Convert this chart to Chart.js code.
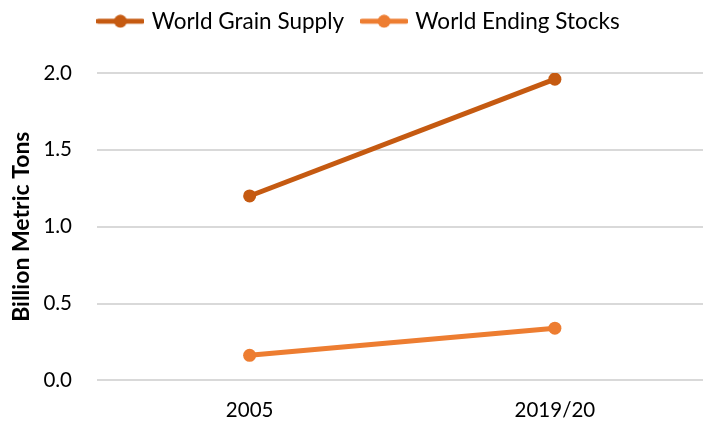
<!DOCTYPE html>
<html>
<head>
<meta charset="utf-8">
<script src="https://cdn.jsdelivr.net/npm/chart.js@4/dist/chart.umd.min.js"></script>
<style>
html,body{margin:0;padding:0;background:#fff;overflow:hidden;width:703px;height:423px;}
#wrap{position:relative;width:714px;height:423px;}
</style>
</head>
<body>
<div id="wrap"><canvas id="c" width="714" height="423"></canvas></div>
<script>
const categories = ["2005", "2019/20"];
const grainSupply = [1.20, 1.96];
const endingStocks = [0.163, 0.34];
const seriesNames = ["World Grain Supply", "World Ending Stocks"];
const yTitle = "Billion Metric Tons";

const colors = ["#C55A11", "#ED7D31"];
const FONT = "Lato, 'Liberation Sans', sans-serif";

function markerImage(color){
  const cv = document.createElement('canvas');
  cv.width = 48; cv.height = 14;
  const g = cv.getContext('2d');
  g.strokeStyle = color; g.lineWidth = 5; g.lineCap = 'round';
  g.beginPath(); g.moveTo(2,7); g.lineTo(46,7); g.stroke();
  g.fillStyle = color; g.beginPath(); g.arc(24,7,6.5,0,Math.PI*2); g.fill();
  return cv;
}
const markers = colors.map(markerImage);

const legendGap = {
  id: 'legendGap',
  beforeInit(chart){
    const fit = chart.legend.fit;
    chart.legend.fit = function(){ fit.call(this); this.height += 30.5; };
  }
};

new Chart(document.getElementById('c'), {
  type: 'line',
  data: {
    labels: categories,
    datasets: [
      {label: seriesNames[0], data: grainSupply, borderColor: colors[0], backgroundColor: colors[0],
       borderWidth: 5, pointRadius: 6.5, pointHoverRadius: 6.5, pointBackgroundColor: colors[0], pointBorderWidth: 0},
      {label: seriesNames[1], data: endingStocks, borderColor: colors[1], backgroundColor: colors[1],
       borderWidth: 5, pointRadius: 6.5, pointHoverRadius: 6.5, pointBackgroundColor: colors[1], pointBorderWidth: 0}
    ]
  },
  plugins: [legendGap],
  options: {
    responsive: false,
    animation: false,
    layout: {padding: {left: 6, right: 0, top: -10, bottom: 0}},
    plugins: {
      tooltip: {enabled: false},
      legend: {
        position: 'top',
        labels: {
          usePointStyle: true,
          pointStyleWidth: 40,
          padding: 20,
          color: '#000',
          font: {family: FONT, size: 22.5},
          generateLabels: (chart) => chart.data.datasets.map((d, i) => ({
            text: d.label, pointStyle: markers[i], fillStyle: colors[i], strokeStyle: colors[i],
            lineWidth: 0, datasetIndex: i, hidden: false, fontColor: '#000'
          }))
        }
      }
    },
    scales: {
      x: {
        offset: true,
        grid: {display: false, drawTicks: false},
        border: {display: false},
        ticks: {color: '#000', font: {family: FONT, size: 20.5}, padding: 18},
        afterFit: (s) => { s.height = 42.6; }
      },
      y: {
        min: 0, max: 2,
        ticks: {stepSize: 0.5, color: '#000', font: {family: FONT, size: 20.5}, padding: 25,
                callback: v => v.toFixed(1)},
        grid: {color: '#D9D9D9', lineWidth: 2, drawTicks: false},
        border: {display: false},
        title: {display: true, text: yTitle, color: '#000', font: {family: FONT, size: 23, weight: 'bold'}, padding: {top: 2, bottom: 11}},
        afterFit: (s) => { s.width = 91; }
      }
    }
  }
});
</script>
</body>
</html>
